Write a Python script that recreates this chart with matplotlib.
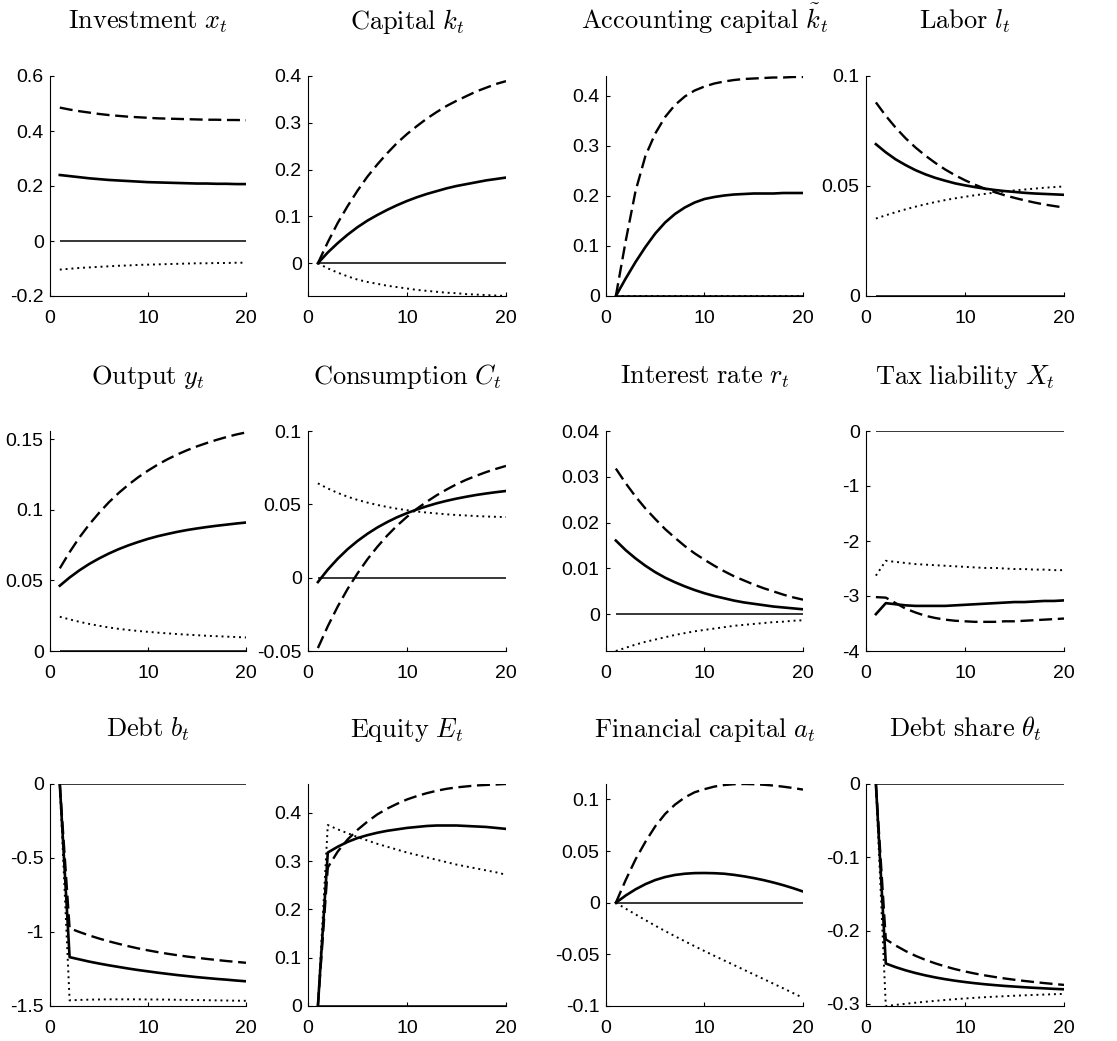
import matplotlib
matplotlib.use("Agg")
import matplotlib.pyplot as plt

plt.rcParams['mathtext.fontset'] = 'cm'
plt.rcParams['axes.unicode_minus'] = False
plt.rcParams['font.family'] = ['Liberation Sans', 'DejaVu Sans']

periods = list(range(1, 21))

# ---- Investment x_t
inv_solid = [0.240, 0.236, 0.232, 0.228, 0.225, 0.222, 0.220, 0.218, 0.216, 0.214,
             0.213, 0.212, 0.211, 0.210, 0.209, 0.209, 0.208, 0.208, 0.207, 0.207]
inv_dashed = [0.485, 0.478, 0.472, 0.467, 0.462, 0.458, 0.455, 0.452, 0.450, 0.448,
              0.446, 0.445, 0.444, 0.443, 0.442, 0.441, 0.441, 0.440, 0.440, 0.439]
inv_dotted = [-0.104, -0.101, -0.098, -0.096, -0.094, -0.092, -0.090, -0.089, -0.087, -0.086,
              -0.085, -0.084, -0.083, -0.082, -0.081, -0.081, -0.080, -0.080, -0.079, -0.079]

# ---- Capital k_t
cap_solid = [0.0, 0.023, 0.043, 0.061, 0.077, 0.091, 0.103, 0.114, 0.124, 0.133,
             0.141, 0.148, 0.154, 0.160, 0.165, 0.169, 0.173, 0.177, 0.180, 0.183]
cap_dashed = [0.0, 0.045, 0.086, 0.122, 0.155, 0.185, 0.211, 0.235, 0.257, 0.276,
              0.293, 0.309, 0.323, 0.336, 0.347, 0.357, 0.367, 0.375, 0.383, 0.389]
cap_dotted = [0.0, -0.011, -0.020, -0.028, -0.035, -0.040, -0.044, -0.048, -0.051, -0.054,
              -0.057, -0.059, -0.061, -0.063, -0.064, -0.066, -0.067, -0.068, -0.069, -0.070]

# ---- Accounting capital
acc_solid = [0.0, 0.035, 0.068, 0.098, 0.125, 0.147, 0.164, 0.177, 0.187, 0.194,
             0.198, 0.201, 0.203, 0.204, 0.205, 0.205, 0.205, 0.206, 0.206, 0.206]
acc_dashed = [0.0, 0.110, 0.210, 0.280, 0.325, 0.358, 0.382, 0.399, 0.411, 0.419,
              0.425, 0.429, 0.432, 0.434, 0.435, 0.436, 0.437, 0.437, 0.438, 0.438]
acc_dotted = [0.0, 0.0, 0.0, 0.0, 0.0, 0.0, 0.0, 0.0, 0.0, 0.0,
              0.0, 0.0, 0.0, 0.0, 0.0, 0.0, 0.0, 0.0, 0.0, 0.0]

# ---- Labor l_t
lab_solid = [0.0690, 0.0653, 0.0621, 0.0595, 0.0572, 0.0553, 0.0537, 0.0524, 0.0512, 0.0503,
             0.0495, 0.0488, 0.0482, 0.0477, 0.0473, 0.0469, 0.0466, 0.0464, 0.0462, 0.0460]
lab_dashed = [0.0880, 0.0819, 0.0765, 0.0717, 0.0675, 0.0638, 0.0605, 0.0575, 0.0549, 0.0526,
              0.0506, 0.0488, 0.0472, 0.0458, 0.0446, 0.0435, 0.0425, 0.0416, 0.0409, 0.0402]
lab_dotted = [0.0352, 0.0367, 0.0381, 0.0394, 0.0406, 0.0417, 0.0427, 0.0436, 0.0444, 0.0451,
              0.0458, 0.0464, 0.0470, 0.0475, 0.0480, 0.0484, 0.0488, 0.0492, 0.0495, 0.0498]

# ---- Output y_t
out_solid = [0.0463, 0.0521, 0.0572, 0.0617, 0.0656, 0.0691, 0.0722, 0.0749, 0.0773, 0.0795,
             0.0814, 0.0830, 0.0845, 0.0858, 0.0869, 0.0879, 0.0888, 0.0896, 0.0904, 0.0911]
out_dashed = [0.0586, 0.0701, 0.0805, 0.0897, 0.0979, 0.1054, 0.1120, 0.1179, 0.1232, 0.1279,
              0.1322, 0.1360, 0.1394, 0.1424, 0.1451, 0.1475, 0.1497, 0.1517, 0.1535, 0.1550]
out_dotted = [0.0243, 0.0224, 0.0207, 0.0192, 0.0179, 0.0167, 0.0157, 0.0149, 0.0142, 0.0136,
              0.0130, 0.0125, 0.0120, 0.0116, 0.0112, 0.0108, 0.0105, 0.0102, 0.0099, 0.0096]

# ---- Consumption C_t
con_solid = [-0.0030, 0.0055, 0.0129, 0.0194, 0.0250, 0.0299, 0.0342, 0.0379, 0.0412, 0.0440,
             0.0465, 0.0487, 0.0507, 0.0524, 0.0539, 0.0552, 0.0564, 0.0574, 0.0583, 0.0591]
con_dashed = [-0.0480, -0.0331, -0.0197, -0.0077, 0.0029, 0.0125, 0.0210, 0.0287, 0.0355, 0.0415,
              0.0470, 0.0518, 0.0562, 0.0601, 0.0637, 0.0668, 0.0695, 0.0720, 0.0742, 0.0762]
con_dotted = [0.0643, 0.0608, 0.0578, 0.0552, 0.0530, 0.0512, 0.0496, 0.0482, 0.0470, 0.0460,
              0.0451, 0.0444, 0.0438, 0.0432, 0.0427, 0.0424, 0.0420, 0.0417, 0.0415, 0.0413]

# ---- Interest rate r_t
int_solid = [0.0161, 0.0140, 0.0122, 0.0106, 0.0092, 0.0080, 0.0070, 0.0061, 0.0053, 0.0046,
             0.0040, 0.0035, 0.0030, 0.0026, 0.0023, 0.0020, 0.0017, 0.0015, 0.0013, 0.0011]
int_dashed = [0.0318, 0.0286, 0.0257, 0.0231, 0.0208, 0.0186, 0.0167, 0.0149, 0.0133, 0.0119,
              0.0106, 0.0094, 0.0083, 0.0074, 0.0065, 0.0057, 0.0050, 0.0043, 0.0037, 0.0032]
int_dotted = [-0.0080, -0.0073, -0.0066, -0.0060, -0.0055, -0.0050, -0.0045, -0.0041, -0.0037, -0.0034,
              -0.0031, -0.0028, -0.0025, -0.0023, -0.0021, -0.0019, -0.0017, -0.0016, -0.0014, -0.0013]

# ---- Tax liability X_t
tax_solid = [-3.33, -3.13, -3.15, -3.17, -3.18, -3.18, -3.18, -3.18, -3.17, -3.16,
             -3.15, -3.14, -3.13, -3.12, -3.11, -3.11, -3.10, -3.09, -3.09, -3.08]
tax_dashed = [-3.02, -3.03, -3.13, -3.23, -3.30, -3.36, -3.40, -3.43, -3.45, -3.46,
              -3.47, -3.47, -3.47, -3.46, -3.46, -3.45, -3.44, -3.43, -3.42, -3.41]
tax_dotted = [-2.63, -2.36, -2.38, -2.40, -2.42, -2.43, -2.44, -2.45, -2.46, -2.47,
              -2.48, -2.49, -2.49, -2.50, -2.51, -2.51, -2.52, -2.52, -2.53, -2.53]

# ---- Debt b_t
debt_solid = [0.0, -1.170, -1.185, -1.200, -1.213, -1.225, -1.236, -1.247, -1.257, -1.266,
              -1.275, -1.283, -1.291, -1.298, -1.305, -1.311, -1.317, -1.322, -1.328, -1.333]
debt_dashed = [0.0, -0.975, -1.000, -1.023, -1.044, -1.063, -1.080, -1.096, -1.111, -1.124,
               -1.136, -1.147, -1.157, -1.166, -1.174, -1.182, -1.189, -1.196, -1.202, -1.208]
debt_dotted = [0.0, -1.462, -1.459, -1.457, -1.456, -1.455, -1.455, -1.455, -1.455, -1.456,
               -1.456, -1.457, -1.458, -1.459, -1.460, -1.461, -1.462, -1.463, -1.464, -1.465]

# ---- Equity E_t
eq_solid = [0.0, 0.318, 0.330, 0.340, 0.348, 0.354, 0.359, 0.363, 0.366, 0.369,
            0.371, 0.373, 0.374, 0.374, 0.374, 0.373, 0.372, 0.371, 0.369, 0.367]
eq_dashed = [0.0, 0.287, 0.320, 0.345, 0.365, 0.382, 0.397, 0.409, 0.419, 0.428,
             0.435, 0.441, 0.446, 0.450, 0.453, 0.455, 0.457, 0.458, 0.459, 0.460]
eq_dotted = [0.0, 0.375, 0.366, 0.358, 0.350, 0.343, 0.336, 0.330, 0.324, 0.318,
             0.313, 0.308, 0.303, 0.298, 0.293, 0.289, 0.285, 0.281, 0.277, 0.272]

# ---- Financial capital a_t
fin_solid = [0.0, 0.0070, 0.0130, 0.0180, 0.0220, 0.0249, 0.0269, 0.0281, 0.0287, 0.0288,
             0.0286, 0.0281, 0.0270, 0.0256, 0.0239, 0.0219, 0.0196, 0.0170, 0.0141, 0.0109]
fin_dashed = [0.0, 0.022, 0.042, 0.059, 0.074, 0.086, 0.095, 0.102, 0.107, 0.110,
              0.1125, 0.1140, 0.1148, 0.1150, 0.1148, 0.1143, 0.1135, 0.1124, 0.1111, 0.1096]
fin_dotted = [0.0, -0.0057, -0.0113, -0.0168, -0.0222, -0.0274, -0.0324, -0.0373, -0.0421, -0.0468,
              -0.0514, -0.0559, -0.0604, -0.0649, -0.0694, -0.0739, -0.0784, -0.0829, -0.0875, -0.0921]

# ---- Debt share theta_t
ds_solid = [0.0, -0.2450, -0.2500, -0.2543, -0.2580, -0.2612, -0.2640, -0.2664, -0.2685, -0.2703,
            -0.2719, -0.2733, -0.2745, -0.2756, -0.2765, -0.2774, -0.2782, -0.2789, -0.2796, -0.2802]
ds_dashed = [0.0, -0.2120, -0.2205, -0.2280, -0.2345, -0.2400, -0.2448, -0.2490, -0.2527, -0.2559,
             -0.2587, -0.2612, -0.2634, -0.2654, -0.2672, -0.2688, -0.2703, -0.2717, -0.2730, -0.2742]
ds_dotted = [0.0, -0.3030, -0.3015, -0.3000, -0.2985, -0.2972, -0.2960, -0.2948, -0.2937, -0.2927,
             -0.2918, -0.2910, -0.2903, -0.2896, -0.2890, -0.2884, -0.2879, -0.2874, -0.2869, -0.2865]

titles = [r'$\mathrm{Investment}\ x_t$', r'$\mathrm{Capital}\ k_t$',
          r'$\mathrm{Accounting\ capital}\ \tilde{k}_t$', r'$\mathrm{Labor}\ l_t$',
          r'$\mathrm{Output}\ y_t$', r'$\mathrm{Consumption}\ C_t$',
          r'$\mathrm{Interest\ rate}\ r_t$', r'$\mathrm{Tax\ liability}\ X_t$',
          r'$\mathrm{Debt}\ b_t$', r'$\mathrm{Equity}\ E_t$',
          r'$\mathrm{Financial\ capital}\ a_t$', r'$\mathrm{Debt\ share}\ \theta_t$']

series = [(inv_solid, inv_dashed, inv_dotted), (cap_solid, cap_dashed, cap_dotted),
          (acc_solid, acc_dashed, acc_dotted), (lab_solid, lab_dashed, lab_dotted),
          (out_solid, out_dashed, out_dotted), (con_solid, con_dashed, con_dotted),
          (int_solid, int_dashed, int_dotted), (tax_solid, tax_dashed, tax_dotted),
          (debt_solid, debt_dashed, debt_dotted), (eq_solid, eq_dashed, eq_dotted),
          (fin_solid, fin_dashed, fin_dotted), (ds_solid, ds_dashed, ds_dotted)]

ylims = [(-0.2, 0.6), (-0.07, 0.4), (0, 0.44), (0, 0.1),
         (0, 0.156), (-0.05, 0.1), (-0.008, 0.04), (-4, 0),
         (-1.5, 0), (0, 0.46), (-0.1, 0.115), (-0.303, 0)]
yticks = [[-0.2, 0, 0.2, 0.4, 0.6], [0, 0.1, 0.2, 0.3, 0.4], [0, 0.1, 0.2, 0.3, 0.4], [0, 0.05, 0.1],
          [0, 0.05, 0.1, 0.15], [-0.05, 0, 0.05, 0.1], [0, 0.01, 0.02, 0.03, 0.04], [-4, -3, -2, -1, 0],
          [-1.5, -1, -0.5, 0], [0, 0.1, 0.2, 0.3, 0.4], [-0.1, -0.05, 0, 0.05, 0.1], [-0.3, -0.2, -0.1, 0]]
xticks = [0, 10, 20]

W, H = 1117, 1041
fig = plt.figure(figsize=(W / 100, H / 100), dpi=100)

col_left = [50, 308, 606, 866]
col_right = [246, 506, 803, 1064]
row_top = [76, 431, 784]
row_bot = [296, 651, 1006]

for i in range(12):
    r, c = divmod(i, 4)
    ax = fig.add_axes([col_left[c] / W, 1 - row_bot[r] / H,
                       (col_right[c] - col_left[c]) / W, (row_bot[r] - row_top[r]) / H])
    s, d, o = series[i]
    ax.hlines(0, periods[0], periods[-1], color='black', lw=1.1, zorder=2)
    ax.plot(periods, s, color='black', lw=1.9, zorder=3)
    ax.plot(periods, d, color='black', lw=1.7, dashes=(5.5, 2.4), zorder=3)
    ax.plot(periods, o, color='black', lw=1.4, linestyle=(0, (1, 2)), zorder=3)
    ax.set_xlim(0, 20)
    ax.set_ylim(*ylims[i])
    ax.set_xticks(xticks)
    ax.set_xticklabels([f'{v:g}' for v in xticks])
    ax.set_yticks(yticks[i])
    ax.set_yticklabels([f'{v:g}' for v in yticks[i]])
    for sp in ['top', 'right']:
        ax.spines[sp].set_visible(False)
    for sp in ['left', 'bottom']:
        ax.spines[sp].set_linewidth(0.8)
    ax.tick_params(direction='in', length=3, width=0.8, labelsize=14)
    ax.tick_params(axis='x', pad=10)
    ax.tick_params(axis='y', pad=4.5)
    ax.set_title(titles[i], fontsize=19, pad=34)

fig.savefig('out.png', dpi=100)
